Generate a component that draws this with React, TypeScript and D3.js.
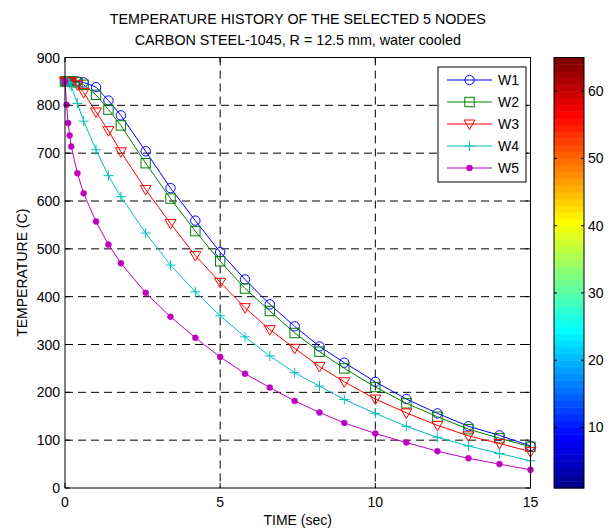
import React from "react";
import * as d3 from "d3";

const times = [0, 0.05, 0.1, 0.15, 0.2, 0.4, 0.6, 1.0, 1.4, 1.8, 2.6, 3.4, 4.2, 5.0, 5.8, 6.6, 7.4, 8.2, 9.0, 10, 11, 12, 13, 14, 15];
const w1 = [850, 850, 850, 850, 850, 850, 848, 838, 810, 779, 704, 627, 559, 493, 436, 384, 338, 296, 262, 222, 186, 156, 129, 110, 88];
const w2 = [850, 850, 850, 850, 850, 848, 843, 822, 791, 758, 679, 605, 537, 474, 417, 370, 324, 285, 250, 211, 177, 149, 123, 104, 86];
const w3 = [850, 850, 850, 850, 849, 843, 827, 786, 747, 703, 624, 553, 486, 430, 377, 331, 292, 254, 222, 186, 157, 131, 109, 93, 76];
const w4 = [850, 850, 848, 845, 840, 804, 767, 707, 653, 609, 533, 466, 410, 360, 316, 276, 241, 213, 185, 156, 129, 106, 88, 72, 57];
const w5 = [850, 801, 763, 737, 714, 658, 616, 557, 509, 470, 408, 358, 314, 274, 239, 210, 182, 158, 136, 114, 95, 77, 62, 50, 38];

const seriesNames = ["W1", "W2", "W3", "W4", "W5"];
const seriesColors = ["#0000ff", "#008000", "#ff0000", "#00bfbf", "#bf00bf"];
const seriesMarkers = ["circle", "square", "triangle", "plus", "dot"];
const seriesValues = [w1, w2, w3, w4, w5];

const xTicks = [0, 5, 10, 15];
const yTicks = [0, 100, 200, 300, 400, 500, 600, 700, 800, 900];
const cbTicks = [10, 20, 30, 40, 50, 60];

const titleLines = ["TEMPERATURE HISTORY OF THE SELECTED 5 NODES", "CARBON STEEL-1045, R = 12.5 mm, water cooled"];
const xLabel = "TIME (sec)";
const yLabel = "TEMPERATURE (C)";

const FONT = "'Liberation Sans', Arial, Helvetica, sans-serif";
const FS = 14;

function jet(m: number): string[] {
  const n = Math.ceil(m / 4);
  const u: number[] = [];
  for (let i = 1; i <= n; i++) u.push(i / n);
  for (let i = 1; i < n; i++) u.push(1);
  for (let i = n; i >= 1; i--) u.push(i / n);
  const J = Array.from({ length: m }, () => [0, 0, 0]);
  const off = Math.ceil(n / 2) - (m % 4 === 1 ? 1 : 0);
  for (let k = 0; k < u.length; k++) {
    const g = off + k + 1;
    const r = g + n;
    const b = g - n;
    if (r >= 1 && r <= m) J[r - 1][0] = u[k];
    if (g >= 1 && g <= m) J[g - 1][1] = u[k];
    if (b >= 1 && b <= m) J[b - 1][2] = u[k];
  }
  return J.map((c) => d3.rgb(c[0] * 255, c[1] * 255, c[2] * 255).formatHex());
}

function Marker({ type, x, y, color }: { type: string; x: number; y: number; color: string }) {
  if (type === "circle") return <circle cx={x} cy={y} r={4.7} fill="none" stroke={color} strokeWidth={1} />;
  if (type === "square") return <rect x={x - 4.7} y={y - 4.7} width={9.4} height={9.4} fill="none" stroke={color} strokeWidth={1} />;
  if (type === "triangle")
    return <path d={`M${x - 5.5},${y - 4}L${x + 5.5},${y - 4}L${x},${y + 5.5}Z`} fill="none" stroke={color} strokeWidth={1} />;
  if (type === "plus")
    return <path d={`M${x - 5},${y}L${x + 5},${y}M${x},${y - 5}L${x},${y + 5}`} fill="none" stroke={color} strokeWidth={1} />;
  return <circle cx={x} cy={y} r={3} fill={color} stroke={color} strokeWidth={0.5} />;
}

export default function App() {
  const W = 611, H = 529;
  const L = 65, R = 530.5, T = 57.5, B = 488;
  const x = d3.scaleLinear().domain([0, 15]).range([L, R]);
  const y = d3.scaleLinear().domain([0, 900]).range([B, T]);
  const cbL = 554, cbR = 584;
  const cy = d3.scaleLinear().domain([1, 65]).range([B, T]);
  const colors = jet(64);
  const line = d3.line<number>().x((_, i) => x(times[i])).y((d) => y(d));
  const tl = 5;

  const lgL = 438, lgR = 526, lgT = 67, lgB = 182;
  const lgRows = [80, 102, 124, 146, 168];

  return (
    <svg width={W} height={H} style={{ position: "absolute", left: 0, top: 0, background: "#fff" }} fontFamily={FONT}>
      <rect x={0} y={0} width={W} height={H} fill="#fff" />
      {titleLines.map((t, i) => (
        <text key={i} x={(L + R) / 2} y={24 + i * 21} textAnchor="middle" fontSize={14.3} fill="#000">{t}</text>
      ))}
      <rect x={L} y={T} width={R - L} height={B - T} fill="#fff" />
      {/* grid */}
      {xTicks.filter((v) => v > 0 && v < 15).map((v) => (
        <line key={"gx" + v} x1={x(v)} x2={x(v)} y1={T} y2={B} stroke="#000" strokeDasharray="8,5" strokeWidth={1} />
      ))}
      {yTicks.filter((v) => v > 0 && v < 900).map((v) => (
        <line key={"gy" + v} x1={L} x2={R} y1={y(v)} y2={y(v)} stroke="#000" strokeDasharray="8,5" strokeWidth={1} />
      ))}
      {/* series */}
      {seriesValues.map((vals, si) => (
        <g key={si}>
          <path d={line(vals) || ""} fill="none" stroke={seriesColors[si]} strokeWidth={1} />
          {vals.map((v, i) => (
            <Marker key={i} type={seriesMarkers[si]} x={x(times[i])} y={y(v)} color={seriesColors[si]} />
          ))}
        </g>
      ))}
      {/* box + ticks */}
      <rect x={L} y={T} width={R - L} height={B - T} fill="none" stroke="#000" strokeWidth={1} />
      {xTicks.map((v) => (
        <g key={"tx" + v}>
          <line x1={x(v)} x2={x(v)} y1={B} y2={B - tl} stroke="#000" />
          <line x1={x(v)} x2={x(v)} y1={T} y2={T + tl} stroke="#000" />
          <text x={x(v)} y={B + 19} textAnchor="middle" fontSize={FS}>{v}</text>
        </g>
      ))}
      {yTicks.map((v) => (
        <g key={"ty" + v}>
          <line x1={L} x2={L + tl} y1={y(v)} y2={y(v)} stroke="#000" />
          <line x1={R} x2={R - tl} y1={y(v)} y2={y(v)} stroke="#000" />
          <text x={L - 5} y={y(v) + 5} textAnchor="end" fontSize={FS}>{v}</text>
        </g>
      ))}
      <text x={(L + R) / 2} y={525} textAnchor="middle" fontSize={FS}>{xLabel}</text>
      <text transform={`translate(27,${(T + B) / 2}) rotate(-90)`} textAnchor="middle" fontSize={FS}>{yLabel}</text>
      {/* legend */}
      <rect x={lgL} y={lgT} width={lgR - lgL} height={lgB - lgT} fill="#fff" stroke="#000" strokeWidth={1} />
      {seriesNames.map((nm, si) => (
        <g key={nm}>
          <line x1={447} x2={492} y1={lgRows[si]} y2={lgRows[si]} stroke={seriesColors[si]} strokeWidth={1} />
          <Marker type={seriesMarkers[si]} x={469.5} y={lgRows[si]} color={seriesColors[si]} />
          <text x={498} y={lgRows[si] + 5} fontSize={FS}>{nm}</text>
        </g>
      ))}
      {/* colorbar */}
      {colors.map((c, i) => (
        <rect key={i} x={cbL} width={cbR - cbL} y={cy(i + 2)} height={cy(i + 1) - cy(i + 2) + 0.5} fill={c} />
      ))}
      <rect x={cbL} y={T} width={cbR - cbL} height={B - T} fill="none" stroke="#000" strokeWidth={1} />
      {cbTicks.map((v) => (
        <g key={"cb" + v}>
          <line x1={cbL} x2={cbL + 3} y1={cy(v)} y2={cy(v)} stroke="#000" />
          <line x1={cbR} x2={cbR - 3} y1={cy(v)} y2={cy(v)} stroke="#000" />
          <text x={cbR + 4} y={cy(v) + 5} fontSize={FS}>{v}</text>
        </g>
      ))}
    </svg>
  );
}
